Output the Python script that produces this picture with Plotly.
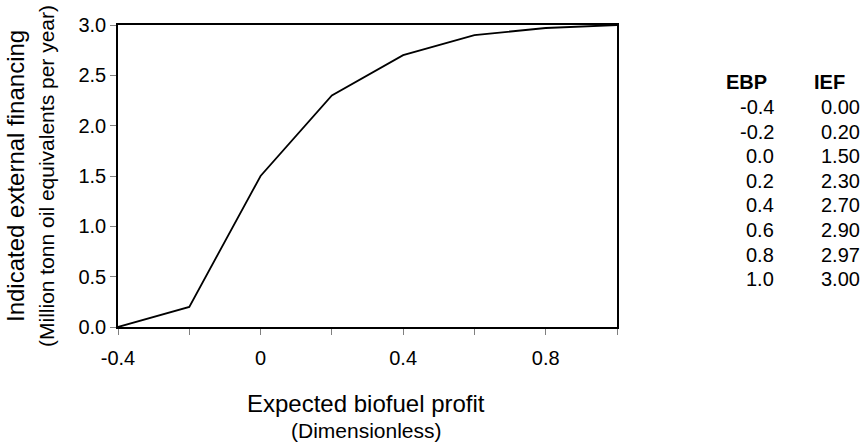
import plotly.graph_objects as go

# Lookup table: expected biofuel profit (EBP) -> indicated external financing (IEF)
ebp = [-0.4, -0.2, 0.0, 0.2, 0.4, 0.6, 0.8, 1.0]
ief = [0.00, 0.20, 1.50, 2.30, 2.70, 2.90, 2.97, 3.00]

x_tickvals = [-0.4, -0.2, 0.0, 0.2, 0.4, 0.6, 0.8, 1.0]
x_ticktext = ["-0.4", "", "0", "", "0.4", "", "0.8", ""]
y_tickvals = [0.0, 0.5, 1.0, 1.5, 2.0, 2.5, 3.0]
y_ticktext = ["0.0", "0.5", "1.0", "1.5", "2.0", "2.5", "3.0"]

FONT = "Liberation Sans, Arial, sans-serif"
W, H = 865, 443
L, R, T, B = 118, 617, 25, 327  # plot area in pixels


def px(xp):
    return (xp - L) / (R - L)


def py(yp):
    return (B - yp) / (B - T)


fig = go.Figure()
fig.add_trace(go.Scatter(
    x=ebp, y=ief, mode="lines",
    line=dict(color="black", width=1.8),
    showlegend=False, hoverinfo="skip",
))

axis_common = dict(
    showgrid=False, zeroline=False,
    showline=True, mirror=True, linecolor="black", linewidth=1.6,
    ticks="outside", ticklen=6, tickwidth=1, tickcolor="#808080",
    tickfont=dict(family=FONT, size=20, color="black"),
)

fig.update_xaxes(range=[-0.4, 1.0], tickvals=x_tickvals, ticktext=x_ticktext,
                 ticklabelstandoff=6, **axis_common)
fig.update_yaxes(range=[0, 3.0], tickvals=y_tickvals, ticktext=y_ticktext,
                 **axis_common)

ann = []
# y-axis title (two lines, different sizes)
ann.append(dict(text="Indicated external financing", x=px(15), y=py(176),
                xref="paper", yref="paper", textangle=-90, showarrow=False,
                xanchor="center", yanchor="middle",
                font=dict(family=FONT, size=24, color="black")))
ann.append(dict(text="(Million tonn oil equivalents per year)", x=px(46), y=py(176),
                xref="paper", yref="paper", textangle=-90, showarrow=False,
                xanchor="center", yanchor="middle",
                font=dict(family=FONT, size=21, color="black")))
# x-axis title
ann.append(dict(text="Expected biofuel profit", x=px(366), y=py(403),
                xref="paper", yref="paper", showarrow=False,
                xanchor="center", yanchor="middle",
                font=dict(family=FONT, size=24, color="black")))
ann.append(dict(text="(Dimensionless)", x=px(366), y=py(430),
                xref="paper", yref="paper", showarrow=False,
                xanchor="center", yanchor="middle",
                font=dict(family=FONT, size=21, color="black")))

# data table beside the chart
ann.append(dict(text="<b>EBP</b>", x=px(746), y=py(82), xref="paper", yref="paper",
                showarrow=False, xanchor="center", yanchor="middle",
                font=dict(family=FONT, size=20, color="black")))
ann.append(dict(text="<b>IEF</b>", x=px(829), y=py(82), xref="paper", yref="paper",
                showarrow=False, xanchor="center", yanchor="middle",
                font=dict(family=FONT, size=20, color="black")))
for i, (e, f) in enumerate(zip(ebp, ief)):
    row_y = 107 + 24.6 * i
    ann.append(dict(text=f"{e:.1f}", x=px(776), y=py(row_y), xref="paper", yref="paper",
                    showarrow=False, xanchor="right", yanchor="middle",
                    font=dict(family=FONT, size=20, color="black")))
    ann.append(dict(text=f"{f:.2f}", x=px(862), y=py(row_y), xref="paper", yref="paper",
                    showarrow=False, xanchor="right", yanchor="middle",
                    font=dict(family=FONT, size=20, color="black")))

fig.update_layout(
    width=W, height=H,
    margin=dict(l=L, r=W - R, t=T, b=H - B, pad=0),
    paper_bgcolor="white", plot_bgcolor="white",
    annotations=ann,
    font=dict(family=FONT, color="black"),
)

fig.write_html("out.html")
